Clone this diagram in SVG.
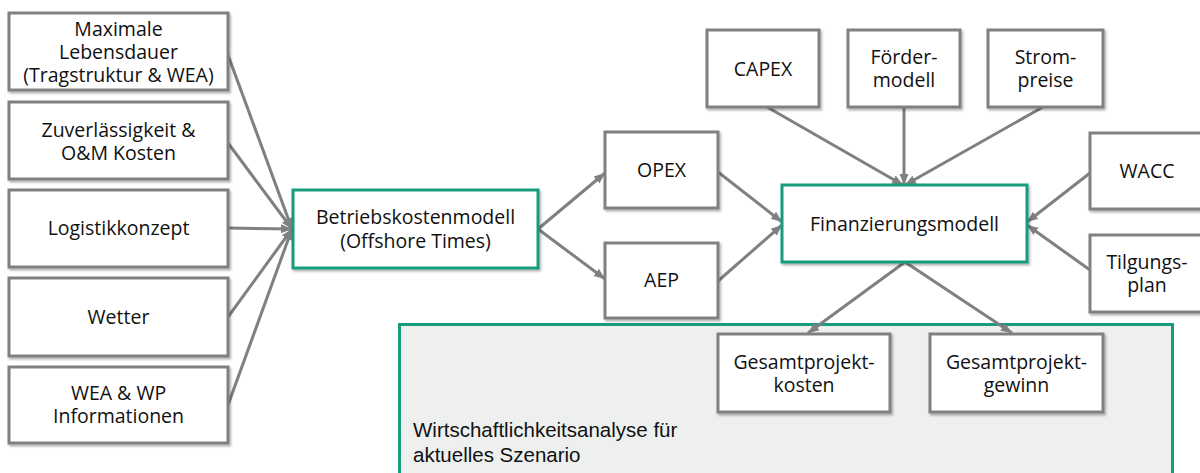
<svg xmlns="http://www.w3.org/2000/svg" width="1200" height="473" viewBox="0 0 1200 473">
  <defs>
    <style>
      .box { fill: #ffffff; stroke: #808080; stroke-width: 3; filter: url(#sh); }
      .hub { fill: #ffffff; stroke: #179c7d; stroke-width: 3; filter: url(#sh); }
      .t { font-family: "Open Sans", "Noto Sans", sans-serif; font-size: 19.5px; fill: #111111; text-anchor: middle; }
      .lbl { font-family: "Liberation Sans", Arial, sans-serif; font-size: 20.5px; fill: #111111; }
      .c { stroke: #808080; stroke-width: 3; fill: none; marker-end: url(#ah); }
    </style>
    <filter id="sh" x="-10%" y="-10%" width="120%" height="130%">
      <feDropShadow dx="1.5" dy="2" stdDeviation="1.2" flood-color="#000000" flood-opacity="0.3"/>
    </filter>
    <marker id="ah" markerUnits="userSpaceOnUse" markerWidth="12" markerHeight="12" viewBox="0 0 12 12" refX="11" refY="6" orient="auto">
      <path d="M0,1.5 L11,6 L0,10.5 Z" fill="#808080"/>
    </marker>
  </defs>

  <g id="container">
    <rect x="399.5" y="324.5" width="773" height="160" fill="#eeefef" stroke="#179c7d" stroke-width="3"/>
    <text class="lbl" x="413" y="437">Wirtschaftlichkeitsanalyse für</text>
    <text class="lbl" x="413" y="462">aktuelles Szenario</text>
  </g>

  <g id="connectors">
    <line class="c" x1="228" y1="55" x2="292" y2="229"/>
    <line class="c" x1="228" y1="143" x2="292" y2="229"/>
    <line class="c" x1="228" y1="228" x2="292" y2="229"/>
    <line class="c" x1="228" y1="317" x2="292" y2="229"/>
    <line class="c" x1="228" y1="405" x2="292" y2="229"/>
    <line class="c" x1="538" y1="229" x2="605" y2="173"/>
    <line class="c" x1="538" y1="229" x2="605" y2="279"/>
    <line class="c" x1="718" y1="172" x2="782" y2="222"/>
    <line class="c" x1="718" y1="281" x2="782" y2="225"/>
    <line class="c" x1="767" y1="107" x2="903" y2="185"/>
    <line class="c" x1="904" y1="107" x2="904" y2="185"/>
    <line class="c" x1="1043" y1="107" x2="905" y2="185"/>
    <line class="c" x1="1090" y1="173" x2="1027" y2="222"/>
    <line class="c" x1="1090" y1="270" x2="1027" y2="225"/>
    <line class="c" x1="905" y1="262" x2="808" y2="333"/>
    <line class="c" x1="905" y1="262" x2="1012" y2="333"/>
  </g>

  <g id="n-lebensdauer">
    <rect class="box" x="9" y="13" width="219" height="77"/>
    <text class="t" x="118.5" y="36">Maximale</text>
    <text class="t" x="118.5" y="59">Lebensdauer</text>
    <text class="t" x="118.5" y="82">(Tragstruktur &amp; WEA)</text>
  </g>
  <g id="n-zuverl">
    <rect class="box" x="9" y="102" width="219" height="77"/>
    <text class="t" x="118.5" y="137">Zuverlässigkeit &amp;</text>
    <text class="t" x="118.5" y="160">O&amp;M Kosten</text>
  </g>
  <g id="n-logistik">
    <rect class="box" x="9" y="190" width="219" height="77"/>
    <text class="t" x="118.5" y="235">Logistikkonzept</text>
  </g>
  <g id="n-wetter">
    <rect class="box" x="9" y="278" width="219" height="78"/>
    <text class="t" x="118.5" y="324">Wetter</text>
  </g>
  <g id="n-wea">
    <rect class="box" x="9" y="367" width="219" height="76"/>
    <text class="t" x="118.5" y="400">WEA &amp; WP</text>
    <text class="t" x="118.5" y="423">Informationen</text>
  </g>

  <g id="n-betrieb">
    <rect class="hub" x="293" y="190" width="245" height="78"/>
    <text class="t" x="415.5" y="224">Betriebskostenmodell</text>
    <text class="t" x="415.5" y="248">(Offshore Times)</text>
  </g>

  <g id="n-opex">
    <rect class="box" x="605" y="132" width="113" height="76"/>
    <text class="t" x="661.5" y="177">OPEX</text>
  </g>
  <g id="n-aep">
    <rect class="box" x="605" y="243" width="113" height="75"/>
    <text class="t" x="661.5" y="287">AEP</text>
  </g>

  <g id="n-capex">
    <rect class="box" x="707" y="30" width="112" height="77"/>
    <text class="t" x="763" y="76">CAPEX</text>
  </g>
  <g id="n-foerder">
    <rect class="box" x="848" y="30" width="112" height="77"/>
    <text class="t" x="904" y="64">Förder-</text>
    <text class="t" x="904" y="87">modell</text>
  </g>
  <g id="n-strom">
    <rect class="box" x="988" y="30" width="115" height="77"/>
    <text class="t" x="1045.5" y="64">Strom-</text>
    <text class="t" x="1045.5" y="87">preise</text>
  </g>

  <g id="n-finanz">
    <rect class="hub" x="782" y="185" width="245" height="77"/>
    <text class="t" x="904.5" y="231">Finanzierungsmodell</text>
  </g>

  <g id="n-wacc">
    <rect class="box" x="1090" y="133" width="120" height="76"/>
    <text class="t" x="1147" y="178">WACC</text>
  </g>
  <g id="n-tilgung">
    <rect class="box" x="1090" y="235" width="120" height="77"/>
    <text class="t" x="1147" y="269">Tilgungs-</text>
    <text class="t" x="1147" y="292">plan</text>
  </g>

  <g id="n-kosten">
    <rect class="box" x="718" y="334" width="172" height="78"/>
    <text class="t" x="804" y="369">Gesamtprojekt-</text>
    <text class="t" x="804" y="392">kosten</text>
  </g>
  <g id="n-gewinn">
    <rect class="box" x="930" y="334" width="173" height="78"/>
    <text class="t" x="1016.5" y="369">Gesamtprojekt-</text>
    <text class="t" x="1016.5" y="392">gewinn</text>
  </g>
</svg>
